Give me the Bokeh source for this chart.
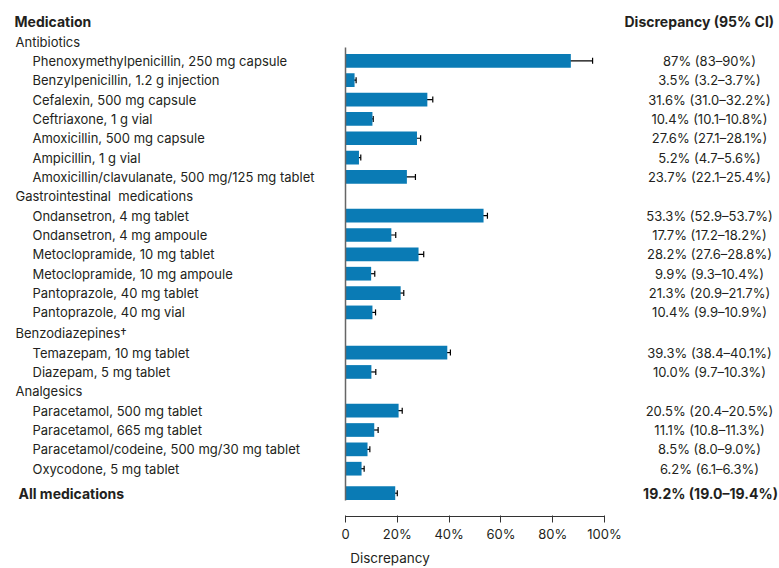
from bokeh.plotting import figure
from bokeh.models import ColumnDataSource, Whisker, FixedTicker, Range1d, TeeHead, LinearAxis
from bokeh.core.properties import value
from bokeh.embed import file_html
from bokeh.resources import INLINE

# ---------------- data ----------------
groups = ["Antibiotics", "Gastrointestinal\u00a0 medications", "Benzodiazepines\u2020", "Analgesics"]
group_sizes = [7, 6, 2, 4]
medications = [
    "Phenoxymethylpenicillin, 250 mg capsule",
    "Benzylpenicillin, 1.2 g injection",
    "Cefalexin, 500 mg capsule",
    "Ceftriaxone, 1 g vial",
    "Amoxicillin, 500 mg capsule",
    "Ampicillin, 1 g vial",
    "Amoxicillin/clavulanate, 500 mg/125 mg tablet",
    "Ondansetron, 4 mg tablet",
    "Ondansetron, 4 mg ampoule",
    "Metoclopramide, 10 mg tablet",
    "Metoclopramide, 10 mg ampoule",
    "Pantoprazole, 40 mg tablet",
    "Pantoprazole, 40 mg vial",
    "Temazepam, 10 mg tablet",
    "Diazepam, 5 mg tablet",
    "Paracetamol, 500 mg tablet",
    "Paracetamol, 665 mg tablet",
    "Paracetamol/codeine, 500 mg/30 mg tablet",
    "Oxycodone, 5 mg tablet",
]
discrepancy = [87, 3.5, 31.6, 10.4, 27.6, 5.2, 23.7,
               53.3, 17.7, 28.2, 9.9, 21.3, 10.4,
               39.3, 10.0,
               20.5, 11.1, 8.5, 6.2]
err_low = [80.3, 1.7, 29.2, 8.2, 26.0, 3.9, 19.7,
           51.5, 16.0, 25.1, 7.8, 19.2, 8.2,
           37.2, 8.2,
           18.3, 9.4, 6.9, 4.0]
err_high = [95.4, 4.1, 33.7, 10.7, 29.0, 5.9, 27.0,
            54.8, 19.4, 30.2, 11.3, 22.5, 11.6,
            40.5, 11.7,
            21.9, 12.6, 9.4, 7.2]
ci_labels = ["87% (83\u201390%)", "3.5% (3.2\u20133.7%)", "31.6% (31.0\u201332.2%)",
             "10.4% (10.1\u201310.8%)", "27.6% (27.1\u201328.1%)", "5.2% (4.7\u20135.6%)",
             "23.7% (22.1\u201325.4%)",
             "53.3% (52.9\u201353.7%)", "17.7% (17.2\u201318.2%)", "28.2% (27.6\u201328.8%)",
             "9.9% (9.3\u201310.4%)", "21.3% (20.9\u201321.7%)", "10.4% (9.9\u201310.9%)",
             "39.3% (38.4\u201340.1%)", "10.0% (9.7\u201310.3%)",
             "20.5% (20.4\u201320.5%)", "11.1% (10.8\u201311.3%)", "8.5% (8.0\u20139.0%)",
             "6.2% (6.1\u20136.3%)"]
all_label = "All medications"
all_value = 19.2
all_low = 17.4
all_high = 20.0
all_ci = "19.2% (19.0\u201319.4%)"
x_ticks = [0, 20, 40, 60, 80, 100]
x_tick_labels = ["0", "20%", "40%", "60%", "80%", "100%"]

# ---------------- layout helpers ----------------
W, H = 779, 568
ZERO_PX, FULL_PX = 345, 604
PX_PER = (FULL_PX - ZERO_PX) / 100.0
FRAME_H = 516
ROW0, ROW_STEP = 41.0, 19.35


def px2x(px):
    return (px - ZERO_PX) / PX_PER


FONT = "Inter"
TXT = "#231f20"
BAR = "#0a7bb5"

# row positions
group_y, item_y = [], []
k = 0
for g, n in zip(groups, group_sizes):
    group_y.append(ROW0 + ROW_STEP * k + (1.5 if k >= 15 else 0))
    k += 1
    for _ in range(n):
        item_y.append(ROW0 + ROW_STEP * k + (1.5 if k >= 15 else 0))
        k += 1
all_y = ROW0 + ROW_STEP * (k - 1) + 26

p = figure(width=W, height=H, output_backend="svg", toolbar_location=None,
           x_range=Range1d(px2x(0), px2x(W)), y_range=Range1d(FRAME_H, 0),
           y_axis_location=None, x_axis_location=None,
           min_border_left=0, min_border_right=0, min_border_top=0,
           min_border_bottom=H - FRAME_H)
p.outline_line_color = None
p.grid.visible = False
p.background_fill_color = "white"

# x axis
xaxis = LinearAxis(bounds=(0, 100), ticker=FixedTicker(ticks=x_ticks),
                   major_label_overrides={t: l for t, l in zip(x_ticks, x_tick_labels)},
                   axis_label="Discrepancy")
xaxis.axis_line_color = "#333333"
xaxis.major_tick_line_color = "#333333"
xaxis.axis_line_width = 1.2
xaxis.major_tick_in = 1
xaxis.major_tick_out = 6
xaxis.minor_tick_line_color = None
xaxis.major_label_text_font = FONT
xaxis.major_label_text_font_size = "13px"
xaxis.major_label_text_color = TXT
xaxis.major_label_standoff = 3
xaxis.axis_label_text_font = FONT
xaxis.axis_label_text_font_size = "13.5px"
xaxis.axis_label_text_font_style = "normal"
xaxis.axis_label_text_color = TXT
xaxis.axis_label_standoff = 5
p.add_layout(xaxis, "below")

# bars
src = ColumnDataSource(dict(y=item_y + [all_y], v=discrepancy + [all_value],
                            lo=err_low + [all_low], hi=err_high + [all_high]))
p.hbar(y="y", left=0, right="v", height=13.7, source=src, color=BAR, line_color=None)
w = Whisker(base="y", lower="lo", upper="hi", dimension="width", source=src,
            line_color="black", line_width=1.2,
            upper_head=TeeHead(size=6, line_color="black", line_width=1.2),
            lower_head=TeeHead(size=6, line_color="black", line_width=1.2))
p.add_layout(w)

# vertical baseline
p.segment(x0=[0], x1=[0], y0=[47], y1=[500], line_color="#666666", line_width=1.5)

# headers
p.text(x=[px2x(14)], y=[21], text=["Medication"], text_font=value(FONT), text_font_size="14px",
       text_font_style="bold", text_color=TXT, text_baseline="middle")
p.text(x=[px2x(624)], y=[21], text=["Discrepancy (95% CI)"], text_font=value(FONT),
       text_font_size="14px", text_font_style="bold", text_color=TXT, text_baseline="middle")

# group labels
p.text(x=[px2x(15)] * len(groups), y=group_y, text=groups, text_font=value(FONT),
       text_font_size="13px", text_color=TXT, text_baseline="middle")
# item labels
p.text(x=[px2x(32)] * len(medications), y=item_y, text=medications, text_font=value(FONT),
       text_font_size="13px", text_color=TXT, text_baseline="middle")
# CI labels
p.text(x=[px2x(709)] * len(ci_labels), y=item_y, text=ci_labels, text_font=value(FONT),
       text_font_size="13px", text_color=TXT, text_baseline="middle", text_align="center")
# all medications
p.text(x=[px2x(18)], y=[all_y], text=[all_label], text_font=value(FONT), text_font_size="14px",
       text_font_style="bold", text_color=TXT, text_baseline="middle")
p.text(x=[px2x(710)], y=[all_y], text=[all_ci], text_font=value(FONT), text_font_size="14px",
       text_font_style="bold", text_color=TXT, text_baseline="middle", text_align="center")

open("out.html", "w").write(file_html(p, INLINE))
